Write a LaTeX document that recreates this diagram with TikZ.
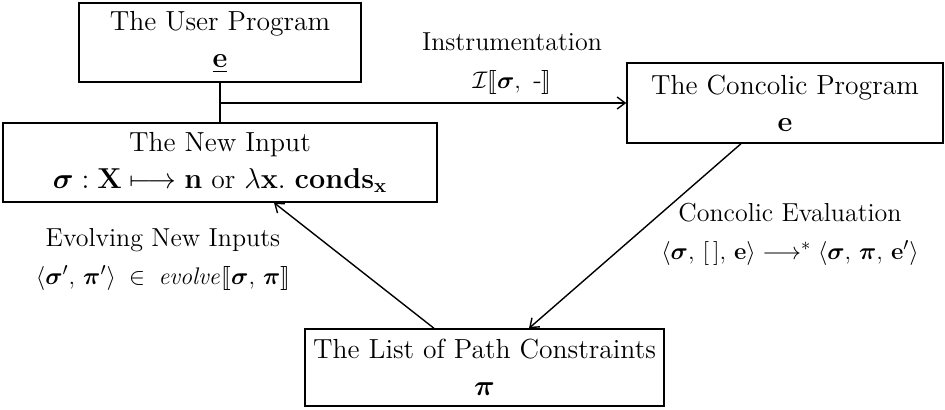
\documentclass[tikz,border=0pt]{standalone}
\usepackage{amsmath,amssymb}
\usepackage{stmaryrd}
\usepackage{tikz}
\usetikzlibrary{calc,arrows.meta}

\tikzset{
  stagebox/.style={draw, line width=0.7pt, inner sep=0pt, align=center,
    font=\fontsize{13.8}{18.5}\selectfont},
  flowlabel/.style={inner sep=0pt, align=center, font=\fontsize{13}{19}\selectfont},
  flowarrow/.style={-{Straight Barb[length=4pt,width=6pt]}, line width=0.7pt}
}
\newcommand{\bsig}{\boldsymbol{\sigma}}
\newcommand{\bpi}{\boldsymbol{\pi}}

\begin{document}
\begin{tikzpicture}[x=0.5pt,y=0.5pt,yscale=-1,xscale=1]
\useasboundingbox (0,0) rectangle (945,410);

% Boxes
\node [stagebox, minimum width=141pt, minimum height=39.5pt] (user) at (220,42.5)
  {The User Program\\ $\underline{\mathbf{e}}$};
\node [stagebox, minimum width=217pt, minimum height=39.5pt] (input) at (220,162.5)
  {The New Input\\ $\bsig : \mathbf{X} \longmapsto \mathbf{n}$ or $\lambda\mathbf{x}.\ \mathbf{conds}_{\mathbf{x}}$};
\node [stagebox, minimum width=158pt, minimum height=40pt] (concolic) at (785,103)
  {The Concolic Program\\ $\mathbf{e}$};
\node [stagebox, minimum width=179.5pt, minimum height=38.5pt] (paths) at (484.5,367.5)
  {The List of Path Constraints\\ $\bpi$};

% Connectors
\coordinate (branch) at (220,103);
\draw [line width=0.7pt] (user.south) -- (input.north);
\draw [flowarrow] (branch) -- (concolic.west);
\draw [flowarrow] ($(concolic.south)+(-44,0)$) -- ($(paths.north)+(44.5,0)$);
\draw [flowarrow] ($(paths.north)+(-50.5,0)$) -- ($(input.south)+(54,0)$);

% Labels
\node [flowlabel] (instr) at (512,64)
  {Instrumentation\\ $\mathcal{I}\llbracket \bsig,\ \text{-}\rrbracket$};
\node [flowlabel] (evalconc) at (790,234)
  {Concolic Evaluation\\ $\langle \bsig,\, [\,],\, \mathbf{e}\rangle \longrightarrow^{*} \langle \bsig,\, \bpi,\, \mathbf{e}'\rangle$};
\node [flowlabel] (evolve) at (163,259)
  {Evolving New Inputs\\ $\langle \bsig',\, \bpi'\rangle \;\in\; \mathit{evolve}\llbracket \bsig,\, \bpi\rrbracket$};
\end{tikzpicture}
\end{document}
